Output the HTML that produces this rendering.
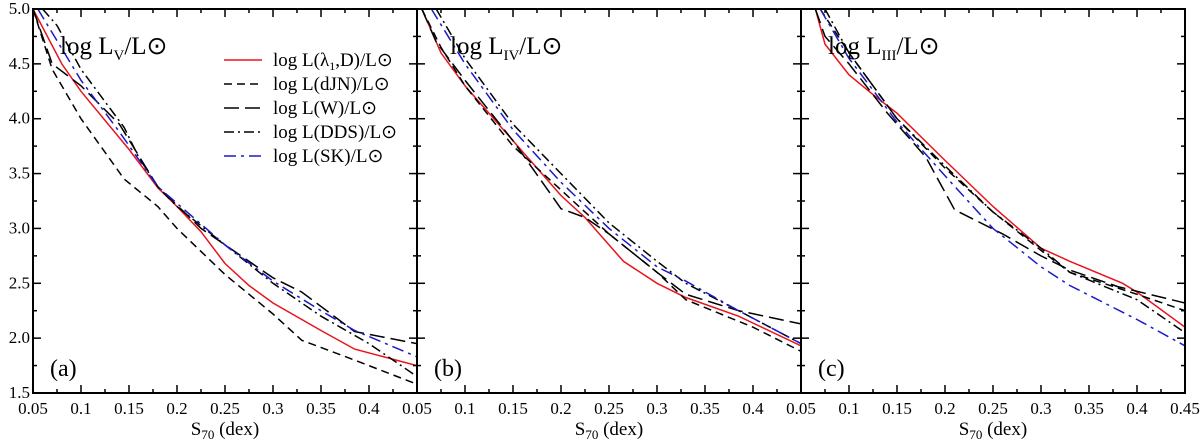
<!DOCTYPE html>
<html><head><meta charset="utf-8"><style>
body{margin:0;background:#fff;}
svg{display:block;font-family:"Liberation Serif",serif;}
</style></head><body>
<svg id="chart" width="1200" height="441" viewBox="0 0 1200 441" xmlns="http://www.w3.org/2000/svg"></svg>
<script>
const xTicks=[0.05,0.1,0.15,0.2,0.25,0.3,0.35,0.4,0.45];
const xTickLabels=["0.05","0.1","0.15","0.2","0.25","0.3","0.35","0.4","0.45"];
const yTicks=[1.5,2.0,2.5,3.0,3.5,4.0,4.5,5.0];
const yTickLabels=["1.5","2.0","2.5","3.0","3.5","4.0","4.5","5.0"];
const panelLabels=["(a)","(b)","(c)"];
const panelTitles=["V","IV","III"];
const seriesNames=["log L(λ1,D)/L⊙","log L(dJN)/L⊙","log L(W)/L⊙","log L(DDS)/L⊙","log L(SK)/L⊙"];
// panel a
const aRedX=[0.05,0.08,0.1,0.15,0.18,0.2,0.225,0.25,0.275,0.3,0.35,0.385,0.45];
const aRedY=[5.0,4.5,4.25,3.72,3.37,3.2,2.97,2.68,2.48,2.32,2.07,1.9,1.75];
const aDjnX=[0.05,0.07,0.1,0.145,0.18,0.2,0.25,0.3,0.33,0.385,0.45];
const aDjnY=[5.0,4.45,4.0,3.45,3.2,3.0,2.58,2.22,1.98,1.8,1.58];
const aWX=[0.05,0.07,0.1,0.14,0.18,0.225,0.3,0.33,0.385,0.45];
const aWY=[5.0,4.5,4.3,3.95,3.38,3.0,2.55,2.42,2.06,1.95];
const aDdsX=[0.06,0.075,0.1,0.145,0.16,0.18,0.2,0.25,0.3,0.35,0.4,0.45];
const aDdsY=[5.0,4.85,4.45,3.92,3.65,3.38,3.2,2.85,2.5,2.2,1.95,1.65];
const aSkX=[0.055,0.1,0.14,0.18,0.25,0.3,0.35,0.385,0.45];
const aSkY=[5.0,4.35,3.88,3.38,2.85,2.52,2.25,2.07,1.83];
// panel b
const bRedX=[0.055,0.075,0.1,0.15,0.2,0.225,0.265,0.3,0.33,0.385,0.45];
const bRedY=[5.0,4.6,4.3,3.8,3.3,3.1,2.7,2.5,2.37,2.2,1.93];
const bDjnX=[0.055,0.075,0.1,0.15,0.2,0.25,0.3,0.33,0.4,0.45];
const bDjnY=[5.0,4.65,4.3,3.75,3.35,2.95,2.6,2.35,2.1,1.88];
const bWX=[0.055,0.07,0.1,0.15,0.2,0.225,0.25,0.3,0.33,0.385,0.45];
const bWY=[5.0,4.7,4.35,3.8,3.18,3.1,2.95,2.6,2.4,2.25,2.13];
const bDdsX=[0.07,0.1,0.15,0.2,0.25,0.3,0.33,0.385,0.45];
const bDdsY=[5.0,4.55,3.95,3.5,3.05,2.7,2.5,2.25,1.95];
const bSkX=[0.065,0.1,0.15,0.2,0.25,0.3,0.33,0.385,0.45];
const bSkY=[5.0,4.5,3.9,3.42,3.0,2.65,2.52,2.25,1.95];
// panel c
const cRedX=[0.065,0.075,0.1,0.125,0.15,0.2,0.25,0.3,0.33,0.385,0.4,0.45];
const cRedY=[5.0,4.68,4.4,4.22,4.05,3.62,3.2,2.82,2.7,2.5,2.42,2.1];
const cDjnX=[0.07,0.1,0.15,0.2,0.25,0.3,0.33,0.4,0.45];
const cDjnY=[5.0,4.6,4.0,3.55,3.15,2.8,2.6,2.4,2.25];
const cWX=[0.065,0.075,0.1,0.14,0.18,0.21,0.26,0.3,0.33,0.38,0.45];
const cWY=[5.0,4.75,4.5,4.05,3.65,3.17,2.95,2.75,2.62,2.47,2.32];
const cDdsX=[0.075,0.1,0.15,0.2,0.25,0.3,0.33,0.4,0.45];
const cDdsY=[5.0,4.6,4.0,3.57,3.15,2.82,2.6,2.35,2.05];
const cSkX=[0.07,0.1,0.15,0.2,0.25,0.3,0.33,0.4,0.45];
const cSkY=[5.0,4.55,3.97,3.48,3.0,2.65,2.48,2.17,1.93];

const panels=[
 [[aRedX,aRedY],[aDjnX,aDjnY],[aWX,aWY],[aDdsX,aDdsY],[aSkX,aSkY]],
 [[bRedX,bRedY],[bDjnX,bDjnY],[bWX,bWY],[bDdsX,bDdsY],[bSkX,bSkY]],
 [[cRedX,cRedY],[cDjnX,cDjnY],[cWX,cWY],[cDdsX,cDdsY],[cSkX,cSkY]]
];
const styles=[
 {c:"#e8141c",d:""},{c:"#000",d:"8,5"},{c:"#000",d:"15,6"},{c:"#000",d:"10,4,2,4"},{c:"#1a1acc",d:"12,5,3,5"}
];
const lefts=[33,417,801], W=384, T=9, B=393;
const svg=document.getElementById('chart');
const NS="http://www.w3.org/2000/svg";
function mk(tag,attrs,parent){const e=document.createElementNS(NS,tag);for(const k in attrs)e.setAttribute(k,attrs[k]);(parent||svg).appendChild(e);return e;}
function yS(v){return B-(v-1.5)/3.5*(B-T);}

panels.forEach((series,p)=>{
 const L=lefts[p];
 const xS=v=>L+(v-0.05)/0.4*W;
 const g=mk('g',{});
 
 
 const cp=mk('clipPath',{id:'clip'+p},g);
 mk('rect',{x:L,y:T,width:W,height:B-T},cp);
 series.forEach((s,i)=>{
  const pts=s[0].map((x,j)=>xS(x).toFixed(1)+','+yS(s[1][j]).toFixed(1)).join(' ');
  const pl=mk('polyline',{points:pts,fill:'none',stroke:styles[i].c,'stroke-width':1.5,'stroke-dasharray':styles[i].d,'clip-path':'url(#clip'+p+')'},g);
  
  
 });
 for(let v=0.05;v<=0.4501;v+=0.025){
  const x=xS(v), major=Math.abs((v*100)%5)<0.01||Math.abs((v*100)%5-5)<0.01;
  const len=major?8:4;
  mk('line',{x1:x,y1:B,x2:x,y2:B-len,stroke:'#000','stroke-width':1.5},g);
  mk('line',{x1:x,y1:T,x2:x,y2:T+len,stroke:'#000','stroke-width':1.5},g);
 }
 for(let v=1.5;v<=5.001;v+=0.25){
  const y=yS(v), major=Math.abs((v*4)%2)<0.01;
  const len=major?8:4;
  mk('line',{x1:L,y1:y,x2:L+len,y2:y,stroke:'#000','stroke-width':1.5},g);
  mk('line',{x1:L+W,y1:y,x2:L+W-len,y2:y,stroke:'#000','stroke-width':1.5},g);
 }
 const fr=mk('rect',{x:L,y:T,width:W,height:B-T,fill:'none',stroke:'#000','stroke-width':2},g);
 
 
 xTicks.forEach((v,i)=>{
  if(p<2 && i===xTicks.length-1) return;
  const t=mk('text',{x:xS(v),y:414,'font-size':17,'text-anchor':'middle'},g);
  t.textContent=xTickLabels[i];
  
  
 });
 const xt=mk('text',{x:L+W/2,y:435,'font-size':19,'text-anchor':'middle'},g);
 xt.innerHTML='S<tspan font-size="13" dy="4">70</tspan><tspan dy="-4"> (dex)</tspan>';
 
 
 const pl=mk('text',{x:L+17,y:376,'font-size':24},g);
 pl.textContent=panelLabels[p];
 
 
 const tt=mk('text',{x:L+[27,33,27][p],y:54,'font-size':25},g);
 tt.innerHTML='log L<tspan font-size="15" dy="6">'+panelTitles[p]+'</tspan><tspan dy="-6">/L⊙</tspan>';
 
 
});
yTicks.forEach((v,i)=>{
 const t=mk('text',{x:30,y:yS(v)+5,'font-size':17,'text-anchor':'end'});
 t.textContent=yTickLabels[i];
 
 
});
const lg=mk('g',{});


const subs=['<tspan>log L(λ</tspan><tspan font-size="12" dy="4">1</tspan><tspan dy="-4">,D)/L⊙</tspan>','log L(dJN)/L⊙','log L(W)/L⊙','log L(DDS)/L⊙','log L(SK)/L⊙'];
seriesNames.forEach((n,i)=>{
 const y=60+i*24;
 const ln=mk('line',{x1:224,y1:y,x2:262,y2:y,stroke:styles[i].c,'stroke-width':1.5,'stroke-dasharray':styles[i].d},lg);
 
 
 const t=mk('text',{x:273,y:y+6,'font-size':19},lg);
 t.innerHTML=subs[i];
 
 
});
</script>
</body></html>
